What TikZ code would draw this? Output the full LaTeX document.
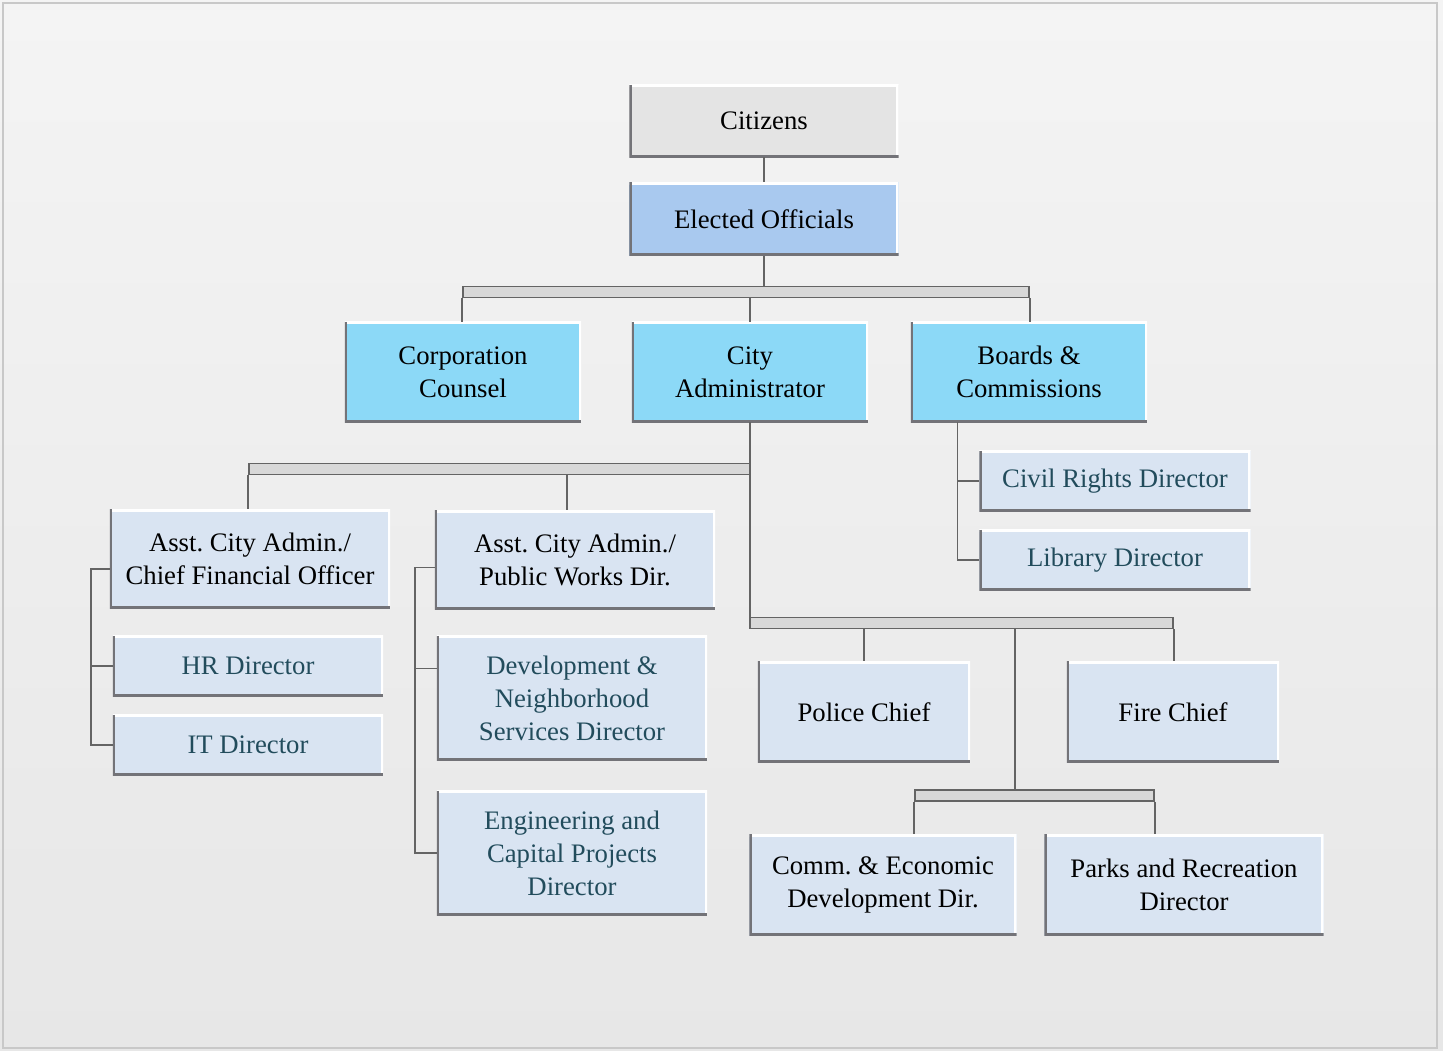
\documentclass[tikz,border=0pt]{standalone}
\usepackage{fontspec}
\setmainfont{Liberation Serif}
\usepackage{tikz}
\usetikzlibrary{positioning, calc}
\definecolor{bgtop}{RGB}{244,244,244}
\definecolor{bgbot}{RGB}{231,231,231}
\definecolor{framegray}{RGB}{200,200,200}
\definecolor{linkgray}{RGB}{100,100,100}
\definecolor{bargray}{RGB}{216,216,216}
\definecolor{citgray}{RGB}{228,228,228}
\definecolor{electblue}{RGB}{169,201,239}
\definecolor{deptcyan}{RGB}{140,217,247}
\definecolor{dirblue}{RGB}{217,228,242}
\definecolor{dirtext}{RGB}{34,76,92}
\definecolor{edgedark}{RGB}{115,115,120}
\tikzstyle{box} = [rectangle, inner sep=0pt, align=center, font=\fontsize{19}{23.5}\selectfont, path picture={
  \draw[white, line width=3pt] (path picture bounding box.north west) -- (path picture bounding box.north east) -- (path picture bounding box.south east);
  \draw[edgedark, line width=3pt] (path picture bounding box.north west) -- (path picture bounding box.south west) -- (path picture bounding box.south east);}]
\tikzstyle{citizen} = [box, fill=citgray, minimum width=6.725cm, minimum height=1.8cm]
\tikzstyle{elected} = [box, fill=electblue, minimum width=6.725cm, minimum height=1.825cm]
\tikzstyle{dept} = [box, fill=deptcyan, minimum width=5.9cm, minimum height=2.5cm]
\tikzstyle{office} = [box, fill=dirblue]
\tikzstyle{director} = [box, fill=dirblue, text=dirtext]
\tikzstyle{bar} = [rectangle, draw=linkgray, fill=bargray, line width=1.2pt, minimum height=0.275cm, inner sep=0pt]
\tikzstyle{link} = [draw=linkgray, line width=1.3pt]
\begin{document}
\begin{tikzpicture}[x=0.025cm, y=-0.025cm]

\useasboundingbox (0,0) rectangle (1443,1051);
\fill [top color=bgtop, bottom color=bgbot] (0,0) rectangle (1443,1051);
\draw [framegray, line width=1.5pt] (3,3) rectangle (1437,1048);

\node (citizens) [citizen] at (764,121) {Citizens};
\node (elected) [elected] at (764,219) {Elected Officials};
\node (bartop) [bar, minimum width=14.15cm] at (746,292) {};
\node (corp) [dept] at (463,372) {Corporation\\Counsel};
\node (admin) [dept] at (750,372) {City\\Administrator};
\node (boards) [dept] at (1029,372) {Boards \&\\Commissions};
\node (barleft) [bar, minimum width=12.525cm] at (499.5,469) {};
\node (cfo) [office, minimum width=7cm, minimum height=2.475cm] at (250,559) {Asst.\ City Admin./\\Chief Financial Officer};
\node (pw) [office, minimum width=7cm, minimum height=2.475cm] at (575,560) {Asst.\ City Admin./\\Public Works Dir.};
\node (hr) [director, minimum width=6.75cm, minimum height=1.5cm] at (248,666) {HR Director};
\node (it) [director, minimum width=6.75cm, minimum height=1.5cm] at (248,745) {IT Director};
\node (dev) [director, minimum width=6.75cm, minimum height=3.1cm] at (572,698) {Development \&\\Neighborhood\\Services Director};
\node (eng) [director, minimum width=6.75cm, minimum height=3.1cm] at (572,853) {Engineering and\\Capital Projects\\Director};
\node (civil) [director, minimum width=6.775cm, minimum height=1.5cm] at (1115,481) {Civil Rights Director};
\node (library) [director, minimum width=6.775cm, minimum height=1.5cm] at (1115,560) {Library Director};
\node (barright) [bar, minimum width=10.575cm] at (961.5,623) {};
\node (police) [office, minimum width=5.3cm, minimum height=2.525cm] at (864,712) {Police Chief};
\node (fire) [office, minimum width=5.3cm, minimum height=2.525cm] at (1173,712) {Fire Chief};
\node (barlow) [bar, minimum width=5.975cm] at (1034.5,795.5) {};
\node (comm) [office, minimum width=6.675cm, minimum height=2.525cm] at (883,885) {Comm.\ \& Economic\\Development Dir.};
\node (parks) [office, minimum width=6.975cm, minimum height=2.525cm] at (1184,885) {Parks and Recreation\\Director};
\coordinate (split) at (1015,623);

% Lines
\draw [link] (citizens.south) -- (elected.north);
\draw [link] (elected.south) -- (elected.south |- bartop.north);
\draw [link] (bartop.south west) -- (bartop.south west |- corp.north);
\draw [link] (bartop.south -| admin) -- (admin.north);
\draw [link] (bartop.south east) -- (bartop.south east |- boards.north);
\draw [link] (admin.south) -- (admin.south |- barright.north);
\draw [link] (barleft.south west) -- (barleft.south west |- cfo.north);
\draw [link] ([xshift=-5.7pt]barleft.south -| pw) -- ([xshift=-5.7pt]pw.north);
\draw [link] (barright.south -| police) -- (police.north);
\draw [link] (barright.south east) -- (barright.south east |- fire.north);
\draw [link] (split |- barright.south) -- (split |- barlow.north);
\draw [link] (barlow.south west) -- (barlow.south west |- comm.north);
\draw [link] (barlow.south east) -- (barlow.south east |- parks.north);
\draw [link] ([yshift=-7pt]cfo.west) -- ++(-19,0) |- (it.west);
\draw [link] (hr.west) -- ++(-22,0);
\draw [link] ([yshift=-5.3pt]pw.west) -- ++(-20,0) |- (eng.west);
\draw [link] ([yshift=21pt]dev.west) -- ++(-22,0);
\draw [link] ([xshift=33.3pt]boards.south west) |- (library.west);
\draw [link] (civil.west) -- ++(-22,0);

\end{tikzpicture}
\end{document}
